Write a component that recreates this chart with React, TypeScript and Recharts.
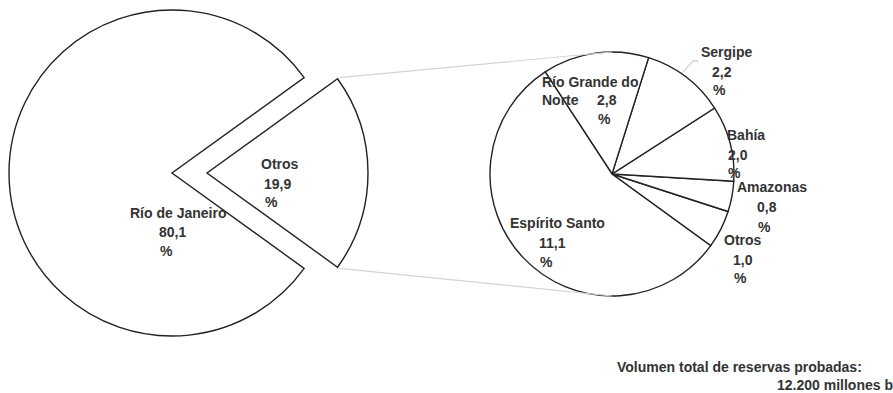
import { PieChart, Pie, Cell } from 'recharts';

// ── Data ──────────────────────────────────────────────────────────────────────
const MAIN_NAMES = ['Otros', 'Río de Janeiro'];
const MAIN_VALUES = [19.9, 80.1];

const DETAIL_NAMES = ['Otros', 'Amazonas', 'Bahía', 'Sergipe', 'Río Grande do Norte', 'Espírito Santo'];
const DETAIL_VALUES = [1.0, 0.8, 2.0, 2.2, 2.8, 11.1];

const FOOTER_LINES = ['Volumen total de reservas probadas:', '12.200 millones b'];

// ── Layout ────────────────────────────────────────────────────────────────────
const W = 893;
const H = 393;
const MAIN = { cx: 172, cy: 173, r: 163 };
const EXPLODE = 35;
const DETAIL = { cx: 612, cy: 174, r: 122 };
const DETAIL_START = -36;

const TEXT = '#333';
const STROKE = '#222';
const FAINT = '#d4d4d4';
const FONT = '"Liberation Sans", Arial, sans-serif';

type LabelPos = { name: [number, number][]; wrap?: number; value: [number, number]; pct: [number, number] };

const MAIN_LABELS: Record<string, LabelPos> = {
  'Río de Janeiro': { name: [[130, 218]], value: [159, 237], pct: [160, 256] },
  Otros: { name: [[261, 169]], value: [264, 189], pct: [265, 207] },
};

const DETAIL_LABELS: Record<string, LabelPos> = {
  'Río Grande do Norte': { name: [[542, 87], [542, 105]], wrap: 3, value: [597, 105], pct: [598, 124] },
  'Espírito Santo': { name: [[510, 228]], value: [539, 248], pct: [540, 267] },
  Sergipe: { name: [[701, 57]], value: [712, 77], pct: [713, 95] },
  Bahía: { name: [[727, 140]], value: [728, 160], pct: [728, 178] },
  Amazonas: { name: [[737, 192]], value: [757, 212], pct: [758, 232] },
  Otros: { name: [[724, 245]], value: [733, 265], pct: [734, 283] },
};

const mainData = MAIN_NAMES.map((name, i) => ({ name, value: MAIN_VALUES[i] }));
const detailData = DETAIL_NAMES.map((name, i) => ({ name, value: DETAIL_VALUES[i] }));

const mainTotal = MAIN_VALUES.reduce((a, b) => a + b, 0);
const mainStart = -((MAIN_VALUES[0] / mainTotal) * 360) / 2;

const fmt = (v: number) => v.toFixed(1).replace('.', ',');
const rad = (deg: number) => (deg * Math.PI) / 180;

const textStyle = { fontFamily: FONT, fontSize: 14, fontWeight: 700, fill: TEXT };

// ── Labels ────────────────────────────────────────────────────────────────────
function makeLabel(table: Record<string, LabelPos>, only?: string) {
  return function PieLabel(props: any) {
    const name: string = props.name ?? props.payload?.name;
    if (only && name !== only) return null;
    const pos = table[name];
    if (!pos) return null;
    const words = name.split(' ');
    const lines = pos.wrap ? [words.slice(0, pos.wrap).join(' '), words.slice(pos.wrap).join(' ')] : [name];
    return (
      <g>
        {lines.map((t, i) => (
          <text key={i} x={pos.name[i][0]} y={pos.name[i][1]} style={textStyle}>
            {t}
          </text>
        ))}
        <text x={pos.value[0]} y={pos.value[1]} style={textStyle}>
          {fmt(Number(props.value))}
        </text>
        <text x={pos.pct[0]} y={pos.pct[1]} style={textStyle}>
          %
        </text>
      </g>
    );
  };
}

// ── Connector lines between the exploded slice and the breakdown pie ──────────
function Connectors() {
  const half = rad(-mainStart);
  const ox = MAIN.cx + EXPLODE + MAIN.r * Math.cos(half);
  const top = MAIN.cy - MAIN.r * Math.sin(half);
  const bottom = MAIN.cy + MAIN.r * Math.sin(half);
  return (
    <svg width={W} height={H} style={{ position: 'absolute', left: 0, top: 0, pointerEvents: 'none' }}>
      <line x1={ox} y1={top} x2={DETAIL.cx} y2={DETAIL.cy - DETAIL.r} stroke={FAINT} strokeWidth={1.2} />
      <line x1={ox} y1={bottom} x2={DETAIL.cx} y2={DETAIL.cy + DETAIL.r} stroke={FAINT} strokeWidth={1.2} />
      {/* Sergipe leader */}
      <polyline points="682,73 693,61 698,61" fill="none" stroke="#bbb" strokeWidth={1} />
      <text x={617} y={372} style={textStyle}>
        {FOOTER_LINES[0]}
      </text>
      <text x={777} y={390} style={textStyle}>
        {FOOTER_LINES[1]}
      </text>
    </svg>
  );
}

// ── Component ─────────────────────────────────────────────────────────────────
export default function App() {
  return (
    <div style={{ position: 'absolute', left: 0, top: 0, width: W, height: H, background: '#fff' }}>
      <PieChart width={W} height={H} margin={{ top: 0, right: 0, bottom: 0, left: 0 }}>
        {/* Main pie, with the "Otros" slice left blank */}
        <Pie
          data={mainData}
          dataKey="value"
          nameKey="name"
          cx={MAIN.cx}
          cy={MAIN.cy}
          outerRadius={MAIN.r}
          startAngle={mainStart}
          endAngle={mainStart + 360}
          label={makeLabel(MAIN_LABELS, 'Río de Janeiro')}
          labelLine={false}
          isAnimationActive={false}
        >
          {mainData.map((d, i) => (
            <Cell
              key={d.name}
              fill={i === 0 ? 'none' : '#fff'}
              stroke={i === 0 ? 'none' : STROKE}
              strokeWidth={1.4}
            />
          ))}
        </Pie>
        {/* Same pie shifted right, showing only the exploded "Otros" slice */}
        <Pie
          data={mainData}
          dataKey="value"
          nameKey="name"
          cx={MAIN.cx + EXPLODE}
          cy={MAIN.cy}
          outerRadius={MAIN.r - 2}
          startAngle={mainStart}
          endAngle={mainStart + 360}
          label={makeLabel(MAIN_LABELS, 'Otros')}
          labelLine={false}
          isAnimationActive={false}
        >
          {mainData.map((d, i) => (
            <Cell
              key={d.name}
              fill={i === 0 ? '#fff' : 'none'}
              stroke={i === 0 ? STROKE : 'none'}
              strokeWidth={1.4}
            />
          ))}
        </Pie>
        {/* Breakdown of "Otros" */}
        <Pie
          data={detailData}
          dataKey="value"
          nameKey="name"
          cx={DETAIL.cx}
          cy={DETAIL.cy}
          outerRadius={DETAIL.r}
          startAngle={DETAIL_START}
          endAngle={DETAIL_START + 360}
          label={makeLabel(DETAIL_LABELS)}
          labelLine={false}
          isAnimationActive={false}
        >
          {detailData.map((d) => (
            <Cell key={d.name} fill="#fff" stroke={STROKE} strokeWidth={1.4} />
          ))}
        </Pie>
      </PieChart>
      <Connectors />
    </div>
  );
}
